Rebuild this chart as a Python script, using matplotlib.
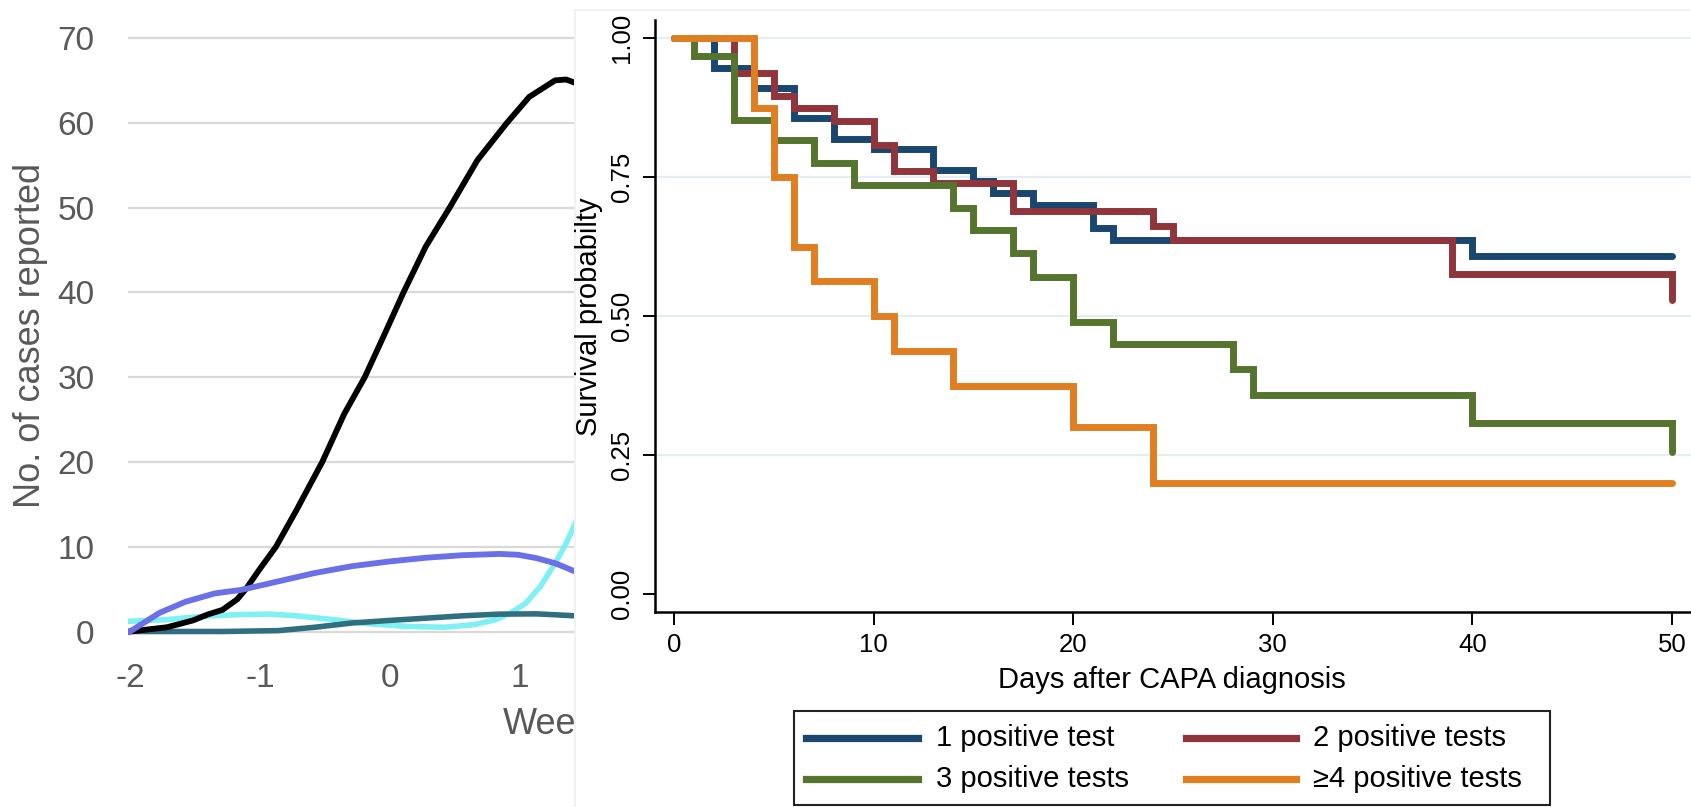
import matplotlib
matplotlib.use("Agg")
import matplotlib.pyplot as plt
from matplotlib.lines import Line2D
from matplotlib.patches import Rectangle
from matplotlib.transforms import Bbox, TransformedBbox

plt.rcParams['font.family'] = ['Liberation Sans', 'DejaVu Sans']

W, H = 1691, 807

# ---------------- Left (cropped) panel data: weeks vs cases ----------------
wk_black = [-2.00, -1.716, -1.517, -1.403, -1.289, -1.175, -1.104, -1.005, -0.877, -0.720,
            -0.521, -0.351, -0.194, -0.038, 0.104, 0.275, 0.459, 0.673, 0.900, 1.071,
            1.270, 1.355, 1.426]
cs_black = [0.0, 0.5, 1.3, 2.0, 2.55, 3.8, 5.1, 7.3, 10.0, 14.3,
            20.0, 25.7, 30.0, 35.2, 40.0, 45.4, 50.0, 55.6, 60.0, 63.05,
            65.0, 65.1, 64.7]
wk_purple = [-2.0, -1.773, -1.574, -1.346, -1.147, -0.863, -0.578, -0.294, -0.010, 0.275,
             0.559, 0.843, 0.985, 1.128, 1.270, 1.426]
cs_purple = [0.0, 2.2, 3.5, 4.5, 4.9, 5.9, 6.9, 7.7, 8.25, 8.7,
             9.0, 9.15, 9.05, 8.65, 8.05, 7.07]
wk_cyan = [-2.02, -1.716, -1.431, -1.147, -0.920, -0.720, -0.436, -0.152, 0.133, 0.417,
           0.644, 0.815, 0.929, 1.042, 1.156, 1.270, 1.355, 1.426]
cs_cyan = [1.2, 1.4, 1.8, 2.0, 2.05, 1.85, 1.4, 0.9, 0.6, 0.5,
           0.8, 1.4, 2.2, 3.3, 5.3, 8.05, 10.4, 12.8]
wk_teal = [-2.0, -1.29, -0.863, -0.578, -0.294, -0.010, 0.275, 0.559, 0.843, 1.128, 1.426]
cs_teal = [0.0, 0.0, 0.1, 0.5, 1.0, 1.3, 1.57, 1.85, 2.05, 2.08, 1.85]

left_yticks = [0, 10, 20, 30, 40, 50, 60, 70]
left_xticks = [-2, -1, 0, 1]

# ---------------- Right panel data: Kaplan-Meier steps ----------------
t_1 = [0, 2, 4, 6, 8, 10, 13, 15, 16, 18, 21, 22, 40, 50]
s_1 = [1.0, 0.946, 0.910, 0.856, 0.818, 0.800, 0.762, 0.742, 0.721, 0.700, 0.658, 0.637, 0.608, 0.608]
t_2 = [0, 3, 5, 6, 8, 10, 11, 13, 17, 24, 25, 39, 50]
s_2 = [1.0, 0.937, 0.895, 0.874, 0.850, 0.808, 0.760, 0.740, 0.688, 0.662, 0.637, 0.575, 0.529]
t_3 = [0, 1, 3, 5, 7, 9, 14, 15, 17, 18, 20, 22, 28, 29, 40, 50]
s_3 = [1.0, 0.967, 0.853, 0.817, 0.776, 0.735, 0.694, 0.654, 0.613, 0.571, 0.490, 0.450, 0.404, 0.358, 0.307, 0.256]
t_4 = [0, 4, 5, 6, 7, 10, 11, 14, 20, 24, 50]
s_4 = [1.0, 0.875, 0.750, 0.625, 0.5625, 0.500, 0.4375, 0.375, 0.300, 0.200, 0.200]

km_labels = ["1 positive test", "2 positive tests", "3 positive tests", "\u22654 positive tests"]
km_colors = ["#1a476f", "#90353b", "#55752f", "#e07f22"]
right_yticks = [0.00, 0.25, 0.50, 0.75, 1.00]
right_xticks = [0, 10, 20, 30, 40, 50]


def fx(px):
    return px / W


def fy(py):
    return 1 - py / H


fig = plt.figure(figsize=(W / 100, H / 100), dpi=100)
fig.patch.set_facecolor("white")

# ---------------- Left panel ----------------
gray_txt = "#595959"
L0, R0, T0, B0 = 128, 574, 20, 645
ax1 = fig.add_axes([fx(L0), fy(B0), (R0 - L0) / W, (B0 - T0) / H])
ax1.set_xlim(-2 + (L0 - 130) / 130, -2 + (R0 - 130) / 130)
ax1.set_ylim((631.5 - B0) / 8.479, (631.5 - T0) / 8.479)
for s in ax1.spines.values():
    s.set_visible(False)
ax1.set_yticks(left_yticks)
ax1.set_xticks(left_xticks)
ax1.set_yticklabels([str(v) for v in left_yticks])
ax1.set_xticklabels([str(v) for v in left_xticks])
ax1.tick_params(axis='both', length=0, labelsize=24, labelcolor=gray_txt)
ax1.tick_params(axis='y', pad=24)
ax1.tick_params(axis='x', pad=13)
ax1.yaxis.grid(True, color="#d9d9d9", lw=1.6)
ax1.set_axisbelow(True)
ax1.plot(wk_cyan, cs_cyan, color="#7ff0f4", lw=4.0, solid_joinstyle='round', zorder=2)
ax1.plot(wk_teal, cs_teal, color="#2f6f80", lw=4.0, solid_joinstyle='round', zorder=3)
ax1.plot(wk_black, cs_black, color="black", lw=4.2, solid_joinstyle='round', zorder=4)
ax1.plot(wk_purple, cs_purple, color="#6b6fe8", lw=4.2, solid_joinstyle='round', zorder=5)

fig.text(fx(31), fy(335), "No. of cases reported", rotation=90, ha='center', va='center',
         fontsize=26, color=gray_txt)
wt = fig.text(fx(503), fy(725), "Weeks", ha='left', va='center', fontsize=26, color=gray_txt)
wt.set_clip_box(TransformedBbox(Bbox.from_extents(0, 0, R0 / W, 1), fig.transFigure))
wt.set_clip_on(True)

# faint plot-region border of the right graph
fig.add_artist(Line2D([fx(575), fx(575)], [fy(10), fy(807)], color="#f0f0f0", lw=1.2))
fig.add_artist(Line2D([fx(575), fx(1691)], [fy(10), fy(10)], color="#f0f0f0", lw=1.2))

# ---------------- Right panel ----------------
L, R, T, B = 655, 1691, 20, 612
ax2 = fig.add_axes([fx(L), fy(B), (R - L) / W, (B - T) / H])
ax2.set_xlim((L - 674) / 19.96, (R - 674) / 19.96)
ax2.set_ylim((594 - B) / 556, (594 - T) / 556)
ax2.spines['top'].set_visible(False)
ax2.spines['right'].set_visible(False)
ax2.spines['left'].set_linewidth(1.8)
ax2.spines['bottom'].set_linewidth(1.8)
ax2.set_yticks(right_yticks)
ax2.set_yticklabels([f"{v:.2f}" for v in right_yticks])
ax2.set_xticks(right_xticks)
ax2.tick_params(axis='both', length=9, width=1.4, labelsize=18.5, color='black')
ax2.tick_params(axis='y', pad=6)
ax2.tick_params(axis='x', pad=6)
plt.setp(ax2.get_yticklabels(), rotation=90, va='center')
for v in right_yticks[1:]:
    ax2.axhline(v, color="#e6eef1", lw=1.6, zorder=0)

series = [(t_1, s_1), (t_2, s_2), (t_3, s_3), (t_4, s_4)]
for (t, s), c, lab in zip(series, km_colors, km_labels):
    ax2.step(t, s, where='post', color=c, lw=5.0, solid_capstyle='round',
             solid_joinstyle='miter', label=lab, zorder=3)

fig.text(fx(589), fy(317), "Survival probabilty", rotation=90, ha='center', va='center', fontsize=21)
fig.text(fx(1172), fy(680), "Days after CAPA diagnosis", ha='center', va='center', fontsize=21)

# ---------------- Legend (drawn box) ----------------
fig.add_artist(Rectangle((fx(794), fy(805)), (1550 - 794) / W, (805 - 711) / H,
                         transform=fig.transFigure, facecolor='white', edgecolor='#222222', lw=1.5))
leg_pos = [(806, 918, 936, 738), (1186, 1296, 1313, 738), (806, 918, 936, 779), (1186, 1296, 1313, 779)]
for (x0, x1, xt, yy), c, lab in zip(leg_pos, km_colors, km_labels):
    fig.add_artist(Line2D([fx(x0), fx(x1)], [fy(yy), fy(yy)], color=c, lw=5.2))
    fig.text(fx(xt), fy(yy), lab, ha='left', va='center', fontsize=21)

fig.savefig("out.png", dpi=100, facecolor='white')
